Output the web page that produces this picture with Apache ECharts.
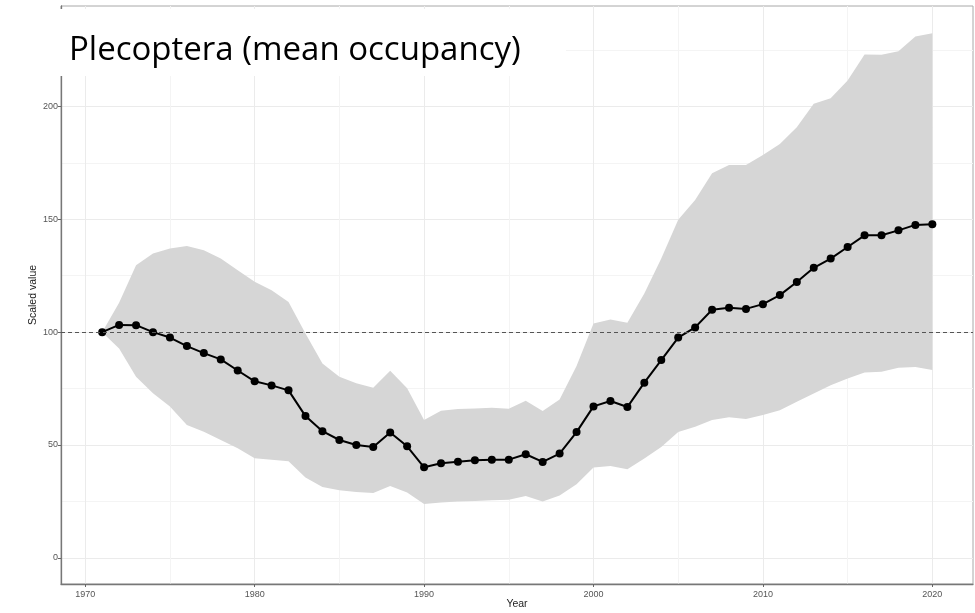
<!DOCTYPE html>
<html>
<head>
<meta charset="utf-8">
<script src="https://cdn.jsdelivr.net/npm/echarts@6/dist/echarts.min.js"></script>
<style>
  html, body { margin: 0; padding: 0; background: #fff; }
  #container { width: 975px; height: 613px; }
</style>
</head>
<body>
<div id="container"></div>
<script>
const years = [1971, 1972, 1973, 1974, 1975, 1976, 1977, 1978, 1979, 1980,
  1981, 1982, 1983, 1984, 1985, 1986, 1987, 1988, 1989, 1990,
  1991, 1992, 1993, 1994, 1995, 1996, 1997, 1998, 1999, 2000,
  2001, 2002, 2003, 2004, 2005, 2006, 2007, 2008, 2009, 2010,
  2011, 2012, 2013, 2014, 2015, 2016, 2017, 2018, 2019, 2020];

const meanValue = [100, 103.2, 103.1, 100, 97.6, 93.8, 90.7, 87.9, 83.0, 78.2,
  76.4, 74.2, 62.8, 56.1, 52.2, 50.0, 49.1, 55.5, 49.4, 40.1,
  41.9, 42.6, 43.2, 43.5, 43.5, 45.9, 42.5, 46.2, 55.7, 67.1,
  69.5, 66.8, 77.6, 87.6, 97.6, 102.1, 109.9, 110.8, 110.3, 112.4,
  116.4, 122.2, 128.5, 132.6, 137.7, 142.9, 142.9, 145.1, 147.5, 147.8];

const upperValue = [100, 113, 129.6, 134.8, 137, 138.2, 136.3, 132.6, 127.4, 122.3,
  118.6, 113.4, 99.4, 86.1, 80.2, 77.3, 75.4, 82.9, 75.1, 61.1,
  65.2, 65.9, 66.2, 66.5, 66.1, 69.6, 65.0, 70.2, 85, 103.8,
  105.6, 104.1, 117.1, 132.6, 149.8, 158.5, 170.4, 174.1, 174.1, 178.5,
  183.4, 190.8, 201.2, 203.6, 211.5, 223, 222.9, 224.5, 231, 232.4];

const lowerValue = [100, 92.8, 80.2, 72.9, 67.0, 58.8, 55.9, 52.2, 48.5, 44.1,
  43.4, 42.8, 35.6, 31.4, 29.9, 29.2, 28.7, 31.8, 28.9, 23.8,
  24.5, 24.9, 25.2, 25.5, 25.7, 27.4, 24.9, 27.6, 32.6, 40,
  40.7, 39.2, 44, 49.1, 55.8, 58.1, 61.1, 62.3, 61.5, 63.3,
  65.4, 69.1, 72.8, 76.5, 79.5, 82.1, 82.4, 84.2, 84.6, 83.2];

const xTicks = [1970, 1980, 1990, 2000, 2010, 2020];
const xMinorTicks = [1975, 1985, 1995, 2005, 2015];
const yTicks = [0, 50, 100, 150, 200];
const yMinorTicks = [25, 75, 125, 175, 225];
const baseline = 100;

const dom = document.getElementById('container');
const myChart = echarts.init(dom, null, { renderer: 'canvas' });

const xMin = 1968.57, xMax = 2022.4;
const yMin = -11.6, yMax = 244.5;
const gridColor = '#ebebeb';
const minorColor = '#f4f4f4';
const tickFont = { color: '#555', fontSize: 9, fontFamily: 'Liberation Sans, Arial, sans-serif' };
const titleFont = { color: '#222', fontSize: 10.5, fontFamily: 'Liberation Sans Narrow, Liberation Sans, Arial, sans-serif' };

const option = {
  animation: false,
  backgroundColor: '#fff',
  grid: {
    left: 61,
    right: 2,
    top: 6,
    bottom: 29,
    outerBoundsMode: 'none',
    show: true,
    borderColor: '#a8a8a8',
    borderWidth: 1
  },
  xAxis: [
    {
      type: 'value',
      min: xMin,
      max: xMax,
      name: 'Year',
      nameLocation: 'middle',
      nameGap: 15,
      nameMoveOverlap: false,
      nameTextStyle: titleFont,
      axisLine: { show: true, onZero: false, lineStyle: { color: '#777', width: 1.3 } },
      axisTick: { show: true, length: 3, customValues: xTicks, lineStyle: { color: '#666' } },
      axisLabel: { customValues: xTicks, margin: 6, ...tickFont, formatter: v => String(v) },
      splitLine: { show: true, lineStyle: { color: gridColor, width: 1 } }
    },
    {
      // minor grid only
      type: 'value',
      min: xMin,
      max: xMax,
      position: 'bottom',
      axisLine: { show: false },
      axisTick: { show: false, customValues: xMinorTicks },
      axisLabel: { show: false, customValues: xMinorTicks },
      splitLine: { show: true, lineStyle: { color: minorColor, width: 1 } }
    }
  ],
  yAxis: [
    {
      type: 'value',
      min: yMin,
      max: yMax,
      name: 'Scaled value',
      nameLocation: 'middle',
      nameGap: 22,
      nameMoveOverlap: false,
      nameTextStyle: titleFont,
      axisLine: { show: true, onZero: false, lineStyle: { color: '#777', width: 1.3 } },
      axisTick: { show: true, length: 3, customValues: yTicks, lineStyle: { color: '#666' } },
      axisLabel: { customValues: yTicks, margin: 3, ...tickFont },
      splitLine: { show: true, lineStyle: { color: gridColor, width: 1 } }
    },
    {
      type: 'value',
      min: yMin,
      max: yMax,
      position: 'left',
      axisLine: { show: false },
      axisTick: { show: false, customValues: yMinorTicks },
      axisLabel: { show: false, customValues: yMinorTicks },
      splitLine: { show: true, lineStyle: { color: minorColor, width: 1 } }
    }
  ],
  graphic: [
    {
      type: 'rect',
      z: 100,
      shape: { x: 54, y: 9, width: 512, height: 67 },
      style: { fill: '#fff' }
    },
    {
      type: 'text',
      z: 101,
      x: 69,
      y: 34,
      style: {
        text: 'Plecoptera (mean occupancy)',
        fill: '#000',
        font: '33px "Open Sans", Lato, sans-serif'
      }
    }
  ],
  series: [
    {
      name: 'band',
      type: 'custom',
      silent: true,
      z: 1,
      data: [0],
      renderItem: function (params, api) {
        const pts = [];
        for (let i = 0; i < years.length; i++) pts.push(api.coord([years[i], upperValue[i]]));
        for (let i = years.length - 1; i >= 0; i--) pts.push(api.coord([years[i], lowerValue[i]]));
        return {
          type: 'polygon',
          shape: { points: pts },
          style: { fill: '#d6d6d6' }
        };
      }
    },
    {
      name: 'baseline',
      type: 'line',
      data: [],
      z: 2,
      markLine: {
        silent: true,
        symbol: 'none',
        label: { show: false },
        lineStyle: { color: '#555', type: [4, 3], width: 1 },
        data: [{ yAxis: baseline }]
      }
    },
    {
      name: 'mean',
      type: 'line',
      symbol: 'circle',
      symbolSize: 8,
      itemStyle: { color: '#000' },
      lineStyle: { color: '#000', width: 2 },
      data: years.map((y, i) => [y, meanValue[i]]),
      z: 3
    }
  ]
};

myChart.setOption(option);
window.addEventListener('resize', myChart.resize);
</script>
</body>
</html>
